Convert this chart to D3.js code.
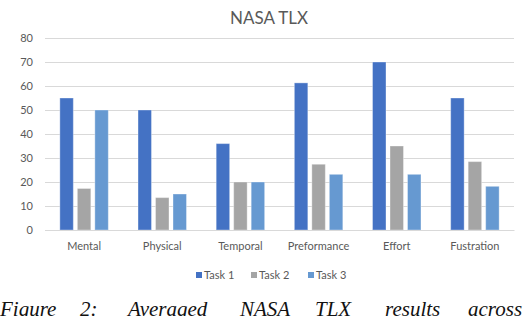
<!DOCTYPE html>
<html>
<head>
<meta charset="utf-8">
<script src="https://cdn.jsdelivr.net/npm/d3@7"></script>
<style>
  body { margin: 0; background: #fff; }
  svg { display: block; }
</style>
</head>
<body>
<svg width="528" height="316"></svg>
<script>
const categories = ['Mental', 'Physical', 'Temporal', 'Preformance', 'Effort', 'Fustration'];
const seriesNames = ['Task 1', 'Task 2', 'Task 3'];
const task1 = [55, 50, 36, 61.3, 70, 55];
const task2 = [17.3, 13.5, 20, 27.4, 35, 28.5];
const task3 = [50, 15, 20, 23.2, 23.2, 18.2];
const yTicks = [0, 10, 20, 30, 40, 50, 60, 70, 80];
const colors = ['#4472C4', '#A5A5A5', '#6699D1'];
const captionWords = ['Figure', '2:', 'Averaged', 'NASA', 'TLX', 'results', 'across'];

const series = [task1, task2, task3];
const svg = d3.select('svg');
const font = 'Lato, "Open Sans", sans-serif';
const textColor = '#595959';

// plot area in pixels
const plotLeft = 45, plotRight = 514, plotTop = 38, plotBottom = 230;

const x = d3.scaleBand()
  .domain(categories)
  .range([plotLeft, plotRight])
  .paddingInner(0.38)
  .paddingOuter(0.19);

const xs = d3.scaleBand()
  .domain(seriesNames)
  .range([0, x.bandwidth()])
  .paddingInner(0.23)
  .paddingOuter(0);

const y = d3.scaleLinear().domain([0, 80]).range([plotBottom, plotTop]);

// title
svg.append('text')
  .attr('x', 269).attr('y', 24)
  .attr('text-anchor', 'middle')
  .attr('font-family', font)
  .attr('font-size', 17)
  .attr('fill', textColor)
  .text('NASA TLX');

// gridlines + y labels
const yAxis = svg.append('g')
  .attr('transform', `translate(${plotLeft},0)`)
  .call(d3.axisLeft(y).tickValues(yTicks).tickSize(-(plotRight - plotLeft)).tickPadding(12));
yAxis.select('.domain').remove();
yAxis.selectAll('.tick line').attr('stroke', '#d9d9d9');
yAxis.selectAll('.tick text')
  .attr('font-family', font)
  .attr('font-size', 11)
  .attr('fill', textColor);

// bars
const groups = svg.append('g').selectAll('g')
  .data(seriesNames)
  .join('g')
  .attr('fill', (d, i) => colors[i]);

groups.selectAll('rect')
  .data((s, si) => categories.map((c, ci) => ({ c, s, v: series[si][ci] })))
  .join('rect')
  .attr('x', d => x(d.c) + xs(d.s))
  .attr('y', d => y(d.v))
  .attr('width', xs.bandwidth())
  .attr('height', d => y(0) - y(d.v))
  .attr('stroke', 'rgba(255,255,255,0.35)')
  .attr('stroke-width', 1);

// x axis labels
const xAxis = svg.append('g')
  .attr('transform', `translate(0,${plotBottom})`)
  .call(d3.axisBottom(x).tickSize(0).tickPadding(12));
xAxis.select('.domain').attr('stroke', '#d9d9d9');
xAxis.selectAll('.tick text')
  .attr('font-family', font)
  .attr('font-size', 11)
  .attr('fill', textColor);

// legend
const legendX = [196, 251, 308];
const legend = svg.append('g').selectAll('g')
  .data(seriesNames)
  .join('g')
  .attr('transform', (d, i) => `translate(${legendX[i]},272)`);
legend.append('rect')
  .attr('width', 6).attr('height', 6)
  .attr('fill', (d, i) => colors[i]);
legend.append('text')
  .attr('x', 8).attr('y', 7)
  .attr('font-family', font)
  .attr('font-size', 11)
  .attr('fill', textColor)
  .text(d => d);

// caption (justified line, cut at the bottom edge as in the source)
const captionX = [0, 80, 128, 240, 315, 385, 468];
svg.append('g').selectAll('text')
  .data(captionWords)
  .join('text')
  .attr('x', (d, i) => captionX[i])
  .attr('y', 316)
  .attr('font-family', '"Liberation Serif", "DejaVu Serif", serif')
  .attr('font-style', 'italic')
  .attr('font-size', 21)
  .attr('fill', '#111')
  .text(d => d);
</script>
</body>
</html>
